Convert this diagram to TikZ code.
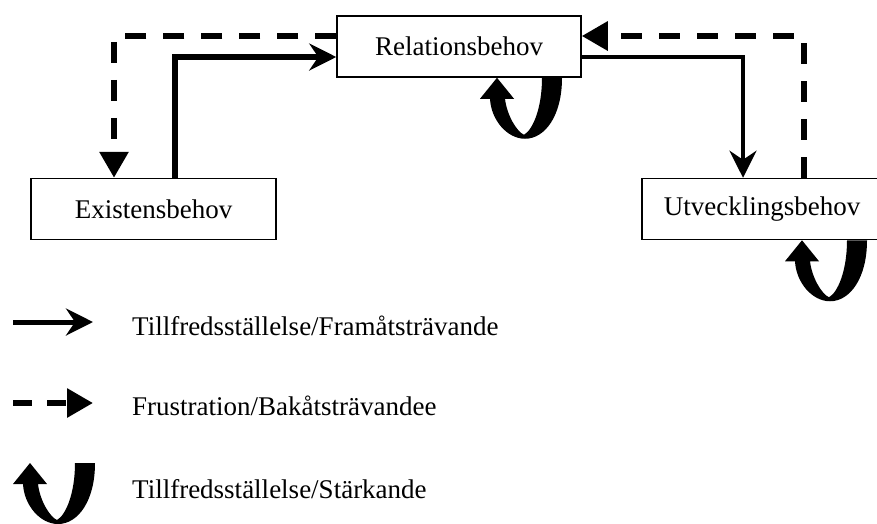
\documentclass[tikz,border=0pt]{standalone}
\usepackage{fontspec}
\setmainfont{Liberation Serif}
\usetikzlibrary{arrows.meta, positioning}

\begin{document}
\begin{tikzpicture}[
    x=1pt, y=-1pt,
    font=\fontsize{27}{32}\selectfont,
    behov/.style={draw, line width=1.5pt, minimum height=61pt, inner sep=0pt},
    fram/.style={line width=5.5pt, -{Stealth[length=27pt, width=27pt, inset=9pt]}},
    bak/.style={line width=6pt, dash pattern=on 21pt off 17pt, -{Triangle[length=26pt, width=28pt]}},
    forklaring/.style={anchor=base west, inner sep=0pt},
    ustark/.pic={
        \fill (0,0) -- (17,21) -- (8,21) .. controls (10,38) and (20,54) .. (27,57)
              .. controls (36,52) and (45,30) .. (45,0) -- (65,0)
              .. controls (65,38) and (48,61) .. (28,61)
              .. controls (10,61) and (-6,42) .. (-7,21) -- (-17,21) -- cycle;
    }
]

    \useasboundingbox (0,0) rectangle (877,523);

    % The three needs
    \node[behov, minimum width=244pt] (relation) at (459,46.5) {Relationsbehov};
    \node[behov, minimum width=245pt] (existens) at (153.5,209) {Existensbehov};
    \node[behov, minimum width=240pt] (utveckling) at (762,209) {Utvecklingsbehov};

    % Satisfaction / progression
    \draw[fram] (existens.north -| 175,0) |- (relation.west |- 0,57);
    \draw[fram, line width=4pt] (relation.east |- 0,57) -| (utveckling.north -| 743,0);

    % Frustration / regression
    \draw[bak] (relation.west |- 0,36) -| (existens.north -| 114,0);
    \draw[bak] (utveckling.north -| 804,0) |- (relation.east |- 0,36);

    % Strengthening loops
    \pic at (relation.south -| 497,0) {ustark};
    \pic at (utveckling.south -| 802,0) {ustark};

    % Legend
    \coordinate (l1a) at (13,322);
    \coordinate (l1b) at (93,322);
    \draw[fram, line width=5pt] (l1a) -- (l1b);
    \node[forklaring] (t1) at (132,335) {Tillfredsställelse/Framåtsträvande};

    \coordinate (l2a) at (13,403);
    \coordinate (l2b) at (93,403);
    \draw[bak, dash pattern=on 19pt off 15pt] (l2a) -- (l2b);
    \node[forklaring] (t2) at (132,415) {Frustration/Bakåtsträvandee};

    \pic at (30,463) {ustark};
    \node[forklaring] (t3) at (132,498) {Tillfredsställelse/Stärkande};

\end{tikzpicture}
\end{document}
